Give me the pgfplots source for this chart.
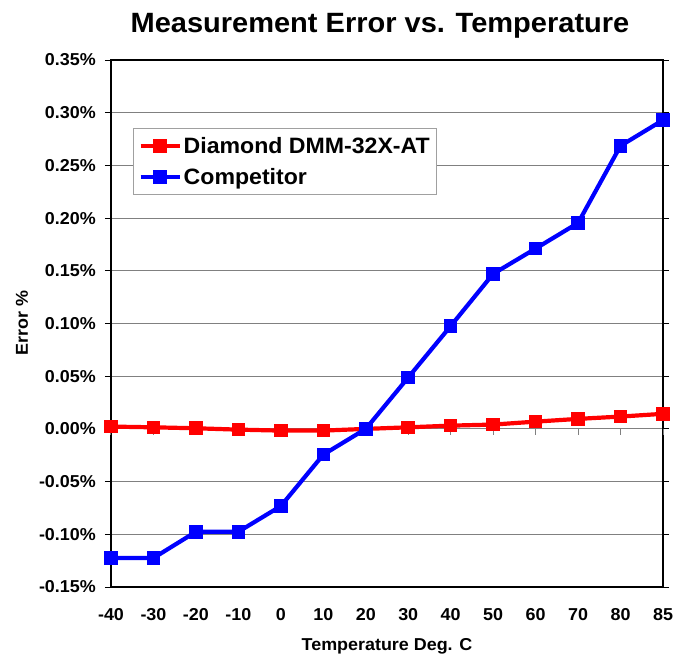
\documentclass[border=0pt]{standalone}
\usepackage{fontspec}
\setmainfont[FakeStretch=1.04]{Liberation Sans}
\usepackage{pgfplots}
\pgfplotsset{compat=1.18}
\definecolor{gridgray}{RGB}{128,128,128}
\definecolor{legendgray}{RGB}{160,160,160}
\begin{document}
\begin{tikzpicture}
\useasboundingbox (-111bp,-69bp) rectangle (575bp,587bp);
\begin{axis}[
  scale only axis, width=552bp, height=527bp,
  at={(0,0)}, anchor=south west,
  xmin=0, xmax=13, ymin=-0.15, ymax=0.35,
  xtick={0,...,13},
  xticklabels={-40,-30,-20,-10,0,10,20,30,40,50,60,70,80,85},
  ytick={-0.15,-0.10,-0.05,0,0.05,0.10,0.15,0.20,0.25,0.30,0.35},
  yticklabels={-0.15\%,-0.10\%,-0.05\%,0.00\%,0.05\%,0.10\%,0.15\%,0.20\%,0.25\%,0.30\%,0.35\%},
  ymajorgrids, major grid style={gridgray, line width=1bp},
  axis line style={black, line width=2bp},
  tick align=outside, major tick length=6bp,
  xtick style={draw=none}, ytick style={black, line width=1bp},
  ticklabel style={font=\fontsize{17.3}{19}\selectfont\bfseries},
  xticklabel style={anchor=base, yshift=-27bp},
  yticklabel style={anchor=east, inner sep=0pt, xshift=-9bp},
  title={Measurement Error vs. Temperature},
  title style={at={(axis description cs:0.4873,1.041)}, anchor=base, font=\fontsize{28}{30}\selectfont\bfseries},
  xlabel={Temperature Deg. C},
  xlabel style={at={(axis description cs:0.5,-0.1214)}, anchor=base, font=\fontsize{17.3}{19}\selectfont\bfseries},
  ylabel={Error \%},
  ylabel style={at={(axis description cs:-0.1504,0.501)}, anchor=base, rotate=0, font=\fontsize{17.3}{19}\selectfont\bfseries},
  legend style={at={(axis description cs:0.0399,0.871)}, anchor=north west,
    draw=legendgray, line width=1bp, fill=white,
    font=\fontsize{22.3}{24}\selectfont\bfseries,
    inner xsep=5bp, inner ysep=7bp, row sep=9bp,
    cells={anchor=west}},
  legend image code/.code={\draw[mark repeat=2,mark phase=2,#1] plot coordinates {(0bp,0bp)(19.5bp,0bp)(39bp,0bp)};},
  clip=false,
]
\pgfplotsinvokeforeach{0,...,13}{\draw[gridgray, line width=1bp] (axis cs:#1,0) -- ([yshift=-6bp]axis cs:#1,0);}
\addplot[red, line width=4.2bp, mark=square*, mark size=4.7bp, mark options={solid}]
  coordinates {(0,0.0022)(1,0.0015)(2,0.0006)(3,-0.0007)(4,-0.0016)(5,-0.0016)(6,0.0000)
               (7,0.0015)(8,0.0031)(9,0.0041)(10,0.0069)(11,0.0095)(12,0.0117)(13,0.0143)};
\addlegendentry{Diamond DMM-32X-AT}
\addplot[blue, line width=4.2bp, mark=square*, mark size=4.7bp, mark options={solid}]
  coordinates {(0,-0.1225)(1,-0.1225)(2,-0.0976)(3,-0.0976)(4,-0.0732)(5,-0.0244)(6,0.0000)
               (7,0.0488)(8,0.0976)(9,0.1471)(10,0.1711)(11,0.1954)(12,0.2686)(13,0.2930)};
\addlegendentry{Competitor}
\end{axis}
\end{tikzpicture}
\end{document}
